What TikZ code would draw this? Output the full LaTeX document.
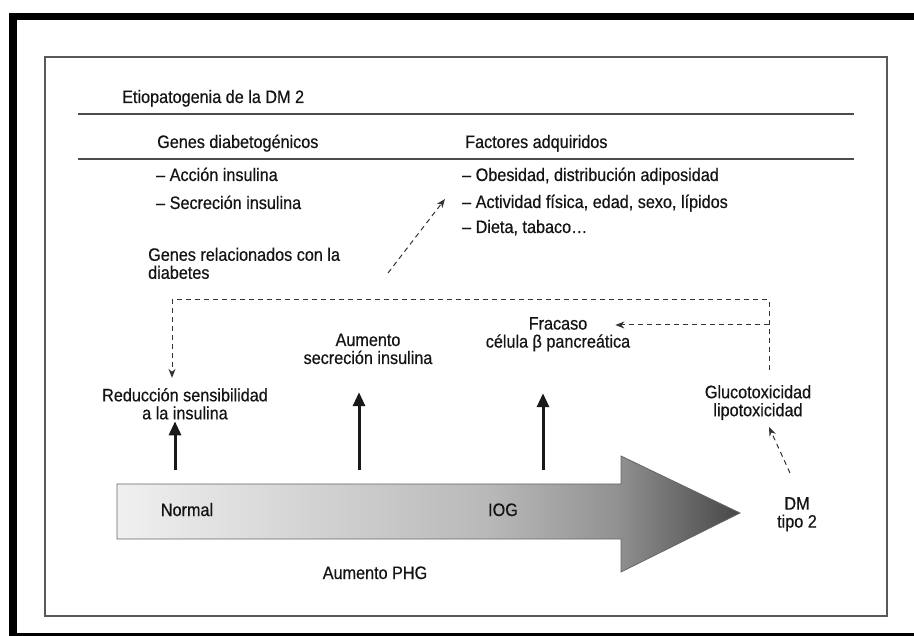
\documentclass[tikz,border=0pt]{standalone}
\usepackage{fontspec}
\setmainfont{Liberation Sans}[FakeStretch=0.9,FakeBold=0.5]
\usetikzlibrary{arrows.meta,calc}
\newcommand\lblfont{\fontsize{18}{18}\selectfont\lineskiplimit=-30pt\relax}
\definecolor{sh0}{HTML}{F0F0F0}
\definecolor{sh1}{HTML}{B8B8B8}
\definecolor{sh2}{HTML}{929292}
\definecolor{sh3}{HTML}{474747}
\pgfdeclarehorizontalshading{bigarrsh}{100bp}{color(0bp)=(sh0); color(25bp)=(sh0); color(55bp)=(sh1); color(65bp)=(sh2); color(75bp)=(sh3); color(100bp)=(sh3)}
\begin{document}
\begin{tikzpicture}[x=1pt,y=-1pt,
  txt/.style={inner sep=0pt, text=black!92, font=\lblfont},
  two/.style={txt, align=center},
  rulel/.style={draw=black!70, line width=1.2pt},
  dsh/.style={draw=black!80, line width=1pt, dash pattern=on 5pt off 4pt},
  dtip/.style={-{Stealth[length=9pt,width=7pt]}},
  uparr/.style={draw=black!90, line width=3pt, -{Triangle[length=14pt,width=12pt]}}
]
\path[use as bounding box] (0,0) rectangle (914,636);
% outer black frame
\fill[black] (9,13) rectangle (914,20);
\fill[black] (9,13) rectangle (17,636);
\fill[black] (9,633) rectangle (914,636);
% inner frame
\draw[black!65, line width=1.3pt] (45,57) rectangle (887,616);

% header
\node[txt, anchor=base west] (title) at (122,103) {Etiopatogenia de la DM 2};
\draw[rulel] (78,114) -- (854,114);
\node[txt, anchor=base west] (gdiab) at (157,148) {Genes diabetogénicos};
\node[txt, anchor=base west] (fadq) at (465,148) {Factores adquiridos};
\draw[rulel] (78,159) -- (854,159);
\node[txt, anchor=base west] (acc) at (156,181) {– Acción insulina};
\node[txt, anchor=base west] (sec) at (156,209) {– Secreción insulina};
\node[txt, anchor=base west] (obe) at (462,181) {– Obesidad, distribución adiposidad};
\node[txt, anchor=base west] (act) at (462,208) {– Actividad física, edad, sexo, lípidos};
\node[txt, anchor=base west] (die) at (462,233) {– Dieta, tabaco…};
\node[txt, align=left, anchor=west] (gen) at (148,266) {\strut Genes relacionados con la\\\strut diabetes};

% big arrow
\path[shading=bigarrsh, draw=black!60, line width=0.8pt]
  (117,484) -- (621,484) -- (621,456) -- (740,513) -- (621,572) -- (621,539) -- (117,539) -- cycle;
\node[txt, anchor=base] (nor) at (187,516) {Normal};
\node[txt, anchor=base] (iog) at (503,516) {IOG};
\node[txt, anchor=base] (phg) at (375,579) {Aumento PHG};

% stage labels
\node[two] (red) at (185,406.4) {\strut Reducción sensibilidad\\\strut a la insulina};
\node[two] (aum) at (368,351.4) {\strut Aumento\\\strut secreción insulina};
\node[two] (fra) at (558,335) {\strut Fracaso\\\strut célula β pancreática};
\node[two] (glu) at (758,403.4) {\strut Glucotoxicidad\\\strut lipotoxicidad};
\node[two] (dm) at (797,515) {\strut DM\\\strut tipo 2};

% solid up arrows
\coordinate (b1) at (175,470);
\coordinate (b2) at (359,470);
\coordinate (b3) at (543,470);
\draw[uparr, shorten >=-3.6pt] (b1) -- (b1 |- red.south);
\draw[uparr, shorten >=22.6pt] (b2) -- (b2 |- aum.south);
\draw[uparr, shorten >=40pt] (b3) -- (b3 |- fra.south);

% dashed feedback
\coordinate (fr) at (769,300);
\coordinate (fl) at (172,300);
\coordinate (fm) at (769,325);
\draw[dsh, dtip, shorten <=15pt, shorten >=10pt] (fr |- glu.north) -- (fr) -- (fl) -- (fl |- red.north);
\draw[dsh, dtip, shorten >=-15pt] (fm) -- (fm -| fra.east);

% dashed oblique arrows
\coordinate (gs) at (388,273);
\coordinate (ge) at (445,199);
\draw[dsh, dtip] (gs) -- (ge);
\coordinate (ds) at (790,473);
\coordinate (de) at (769,427);
\draw[dsh, dtip] (ds) -- (de);
\end{tikzpicture}
\end{document}
